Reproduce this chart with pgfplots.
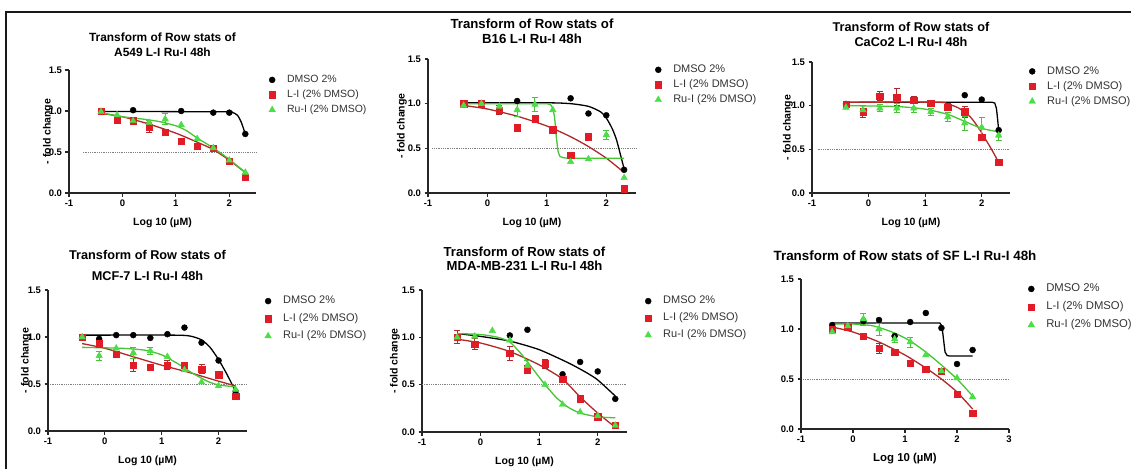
\documentclass[border=0pt]{standalone}
\usepackage{fontspec}
\setmainfont{Liberation Sans}
\usepackage{pgfplots}
\pgfplotsset{compat=1.18}

\definecolor{lired}{RGB}{226,28,38}
\definecolor{lidark}{RGB}{176,40,40}
\definecolor{rugreen}{RGB}{76,222,70}
\definecolor{rudark}{RGB}{70,196,52}

\pgfplotsset{
  panel/.style={
    scale only axis, clip=false,
    axis lines=left, axis line style={-, line width=1.4pt, black!85},
    tick align=outside, major tick length=3.5pt,
    tick style={line width=1.2pt, black!85},
    xmin=-1, xmax=2.5, ymin=0, ymax=1.5,
    xtick={-1,0,1,2}, ytick={0,0.5,1,1.5},
    x tick label style={/pgf/number format/assume math mode=true},
    y tick label style={/pgf/number format/.cd, fixed, fixed zerofill, precision=1, assume math mode=true},
    tick label style={font=\bfseries\fontsize{9.5}{10}\selectfont},
    xlabel={Log 10 (µM)}, ylabel={- fold change},
    label style={font=\bfseries\fontsize{10.5}{12}\selectfont},
    xlabel style={yshift=-4pt},
    title style={align=center},
    legend cell align=left,
    legend image code/.code={\path[draw=none, fill=none] (0pt,0pt) -- (19pt,0pt); \draw[#1] plot coordinates {(4pt,0pt)};},
    legend style={draw=none, fill=none, anchor=north west, inner sep=0pt,
      font=\fontsize{10.5}{12}\selectfont, text=black!80,
      nodes={inner sep=0pt, text height=8pt, text depth=2.5pt}, row sep=4.5pt},
  },
  dmso/.style={only marks, mark=*, mark size=3pt, black, mark options={fill=black}},
  li/.style={only marks, mark=square*, mark size=3.2pt, lired, mark options={fill=lired}},
  rui/.style={only marks, mark=triangle*, mark size=3.8pt, rugreen, mark options={fill=rugreen}},
  errs/.style={forget plot, only marks, mark=none,
    error bars/y dir=both, error bars/y explicit,
    error bars/error bar style={line width=1pt},
    error bars/error mark options={rotate=90, mark size=3pt, line width=1pt}},
  fit/.style={forget plot, no marks, line width=1.3pt, smooth, tension=0.4},
  half/.style={forget plot, no marks, gray, densely dotted, line width=0.8pt},
}

\begin{document}
\begin{tikzpicture}

% ---------- A549 ----------
\begin{axis}[panel, at={(69pt,-193pt)}, anchor=south west, width=187pt, height=123pt,
  title={Transform of Row stats of\\A549 L-I Ru-I 48h},
  title style={font=\bfseries\fontsize{11.9}{15}\selectfont, yshift=4pt},
  ylabel style={yshift=-11pt},
  legend style={at={(1.064,0.964)}}]
\addplot[half] coordinates {(-0.74,0.5) (2.5,0.5)};
\addplot[fit, black] coordinates {(-0.4,0.995) (1.9,0.99) (2.05,0.985) (2.15,0.95) (2.22,0.87) (2.3,0.72)};
\addplot[fit, lidark] coordinates {(-0.4,0.97) (0,0.93) (0.5,0.84) (1.0,0.73) (1.4,0.62) (1.7,0.53) (2.0,0.40) (2.3,0.25)};
\addplot[fit, rudark] coordinates {(-0.4,0.98) (0,0.93) (0.4,0.9) (0.7,0.87) (1.0,0.82) (1.2,0.76) (1.4,0.67) (1.7,0.55) (2.0,0.41) (2.3,0.25)};
\addplot[errs, lidark] table[x=x, y=y, y error=e] {
x y e
0.5 0.80 0.06
};
\addplot[errs, rudark] table[x=x, y=y, y error=e] {
x y e
0.5 0.86 0.03
0.8 0.90 0.07
};
\addplot[dmso] coordinates {(-0.4,1.0) (0.2,1.01) (1.1,1.0) (1.7,0.98) (2.0,0.98) (2.3,0.72)};
\addplot[li] coordinates {(-0.4,1.0) (-0.1,0.89) (0.2,0.88) (0.5,0.80) (0.8,0.74) (1.1,0.63) (1.4,0.57) (1.7,0.55) (2.0,0.39) (2.3,0.19)};
\addplot[rui] coordinates {(-0.4,0.99) (-0.1,0.95) (0.2,0.88) (0.5,0.86) (0.8,0.9) (1.1,0.83) (1.4,0.66) (1.7,0.55) (2.0,0.40) (2.3,0.25)};
\legend{DMSO 2\%, L-I (2\% DMSO), Ru-I (2\% DMSO)}
\end{axis}

% ---------- B16 ----------
\begin{axis}[panel, at={(428pt,-193pt)}, anchor=south west, width=208pt, height=134pt,
  title={Transform of Row stats of\\B16 L-I Ru-I 48h},
  title style={font=\bfseries\fontsize{13.2}{14.5}\selectfont, yshift=6pt},
  ylabel style={yshift=-6pt},
  legend style={at={(1.087,0.96)}, font=\fontsize{11}{12}\selectfont}]
\addplot[half] coordinates {(-0.93,0.5) (2.5,0.5)};
\addplot[fit, black] coordinates {(-0.4,1.01) (1.0,1.01) (1.4,1.0) (1.7,0.97) (1.9,0.91) (2.0,0.84) (2.1,0.72) (2.17,0.6) (2.23,0.45) (2.3,0.27)};
\addplot[fit, lidark] coordinates {(-0.4,0.98) (0,0.94) (0.5,0.86) (1.0,0.75) (1.4,0.63) (1.7,0.52) (2.0,0.39) (2.3,0.23)};
\addplot[forget plot, no marks, line width=1.3pt, rudark] coordinates {(-0.4,1.0) (1.0,1.0) (1.06,0.99) (1.1,0.95) (1.13,0.85) (1.16,0.62) (1.19,0.46) (1.22,0.41) (1.27,0.395) (1.35,0.39) (2.3,0.39)};
\addplot[errs, lidark] table[x=x, y=y, y error=e] {
x y e
0.2 0.93 0.05
1.7 0.63 0.03
};
\addplot[errs, rudark] table[x=x, y=y, y error=e] {
x y e
0.5 0.93 0.07
0.8 0.99 0.08
2.0 0.65 0.05
};
\addplot[dmso] coordinates {(-0.4,1.0) (0.5,1.03) (1.4,1.06) (1.7,0.89) (2.0,0.87) (2.3,0.26)};
\addplot[li] coordinates {(-0.4,1.0) (-0.1,1.0) (0.2,0.93) (0.5,0.73) (0.8,0.83) (1.1,0.71) (1.4,0.42) (1.7,0.63) (2.3,0.05)};
\addplot[rui] coordinates {(-0.4,0.98) (-0.1,1.0) (0.2,0.97) (0.5,0.93) (0.8,0.99) (1.1,0.93) (1.4,0.35) (1.7,0.38) (2.0,0.65) (2.3,0.17)};
\legend{DMSO 2\%, L-I (2\% DMSO), Ru-I (2\% DMSO)}
\end{axis}

% ---------- CaCo2 ----------
\begin{axis}[panel, at={(812pt,-193pt)}, anchor=south west, width=198pt, height=131pt,
  title={Transform of Row stats of\\CaCo2 L-I Ru-I 48h},
  title style={font=\bfseries\fontsize{12.7}{15.7}\selectfont, yshift=5.5pt},
  ylabel style={yshift=-8pt},
  legend style={at={(1.091,0.97)}, font=\fontsize{11}{12}\selectfont}]
\addplot[half] coordinates {(-0.9,0.5) (2.5,0.5)};
\addplot[forget plot, no marks, line width=1.3pt, black] coordinates {(-0.4,1.04) (2.18,1.04) (2.23,1.03) (2.26,0.97) (2.28,0.85) (2.3,0.72)};
\addplot[fit, lidark] coordinates {(-0.4,1.04) (1.2,1.04) (1.4,1.02) (1.6,0.97) (1.8,0.87) (1.95,0.74) (2.1,0.58) (2.2,0.47) (2.3,0.35)};
\addplot[fit, rudark] coordinates {(-0.4,1.0) (0.5,0.99) (1.0,0.96) (1.4,0.9) (1.7,0.82) (2.0,0.74) (2.3,0.70)};
\addplot[errs, lidark] table[x=x, y=y, y error=e] {
x y e
-0.1 0.93 0.07
0.2 1.11 0.05
0.5 1.10 0.10
0.8 1.06 0.04
1.4 0.98 0.04
1.7 0.93 0.06
};
\addplot[errs, rudark] table[x=x, y=y, y error=e] {
x y e
-0.1 0.95 0.05
0.2 0.97 0.04
0.5 0.97 0.05
0.8 0.97 0.05
1.1 0.93 0.04
1.4 0.87 0.05
1.7 0.80 0.08
2.0 0.75 0.12
2.3 0.66 0.06
};
\addplot[dmso] coordinates {(-0.4,1.02) (1.7,1.12) (2.0,1.07) (2.3,0.72)};
\addplot[li] coordinates {(-0.4,1.02) (-0.1,0.93) (0.2,1.11) (0.5,1.1) (0.8,1.06) (1.1,1.03) (1.4,0.98) (1.7,0.93) (2.0,0.64) (2.3,0.35)};
\addplot[rui] coordinates {(-0.4,0.98) (-0.1,0.95) (0.2,0.97) (0.5,0.97) (0.8,0.97) (1.1,0.93) (1.4,0.87) (1.7,0.8) (2.0,0.75) (2.3,0.66)};
\legend{DMSO 2\%, L-I (2\% DMSO), Ru-I (2\% DMSO)}
\end{axis}

% ---------- MCF-7 ----------
\begin{axis}[panel, at={(48pt,-431pt)}, anchor=south west, width=199pt, height=141pt,
  title={Transform of Row stats of\\MCF-7 L-I Ru-I 48h},
  title style={font=\bfseries\fontsize{12.7}{20.7}\selectfont},
  ylabel style={yshift=-10pt},
  legend style={at={(1.085,0.96)}, font=\fontsize{11}{12}\selectfont, row sep=7pt}]
\addplot[half] coordinates {(-0.97,0.5) (2.5,0.5)};
\addplot[fit, black] coordinates {(-0.4,1.02) (1.2,1.02) (1.5,1.01) (1.7,0.97) (1.85,0.89) (2.0,0.76) (2.15,0.6) (2.3,0.42)};
\addplot[fit, lidark] coordinates {(-0.4,0.93) (0,0.88) (0.5,0.79) (1.0,0.7) (1.5,0.62) (2.0,0.53) (2.3,0.48)};
\addplot[fit, rudark] coordinates {(-0.4,0.89) (0.3,0.88) (0.7,0.86) (1.0,0.81) (1.3,0.71) (1.5,0.63) (1.8,0.53) (2.0,0.49) (2.3,0.47)};
\addplot[errs, lidark] table[x=x, y=y, y error=e] {
x y e
-0.1 0.93 0.04
0.5 0.70 0.07
1.1 0.70 0.05
1.7 0.66 0.05
};
\addplot[errs, rudark] table[x=x, y=y, y error=e] {
x y e
-0.1 0.80 0.05
0.5 0.83 0.06
0.8 0.85 0.04
};
\addplot[dmso] coordinates {(-0.1,0.98) (0.2,1.02) (0.5,1.02) (0.8,0.99) (1.1,1.03) (1.4,1.1) (1.7,0.94) (2.0,0.75) (2.3,0.42)};
\addplot[li] coordinates {(-0.4,1.0) (-0.1,0.93) (0.2,0.82) (0.5,0.70) (0.8,0.68) (1.1,0.7) (1.4,0.7) (1.7,0.66) (2.0,0.6) (2.3,0.37)};
\addplot[rui] coordinates {(-0.4,1.0) (-0.1,0.8) (0.2,0.88) (0.5,0.83) (0.8,0.85) (1.1,0.79) (1.4,0.65) (1.7,0.52) (2.0,0.48) (2.3,0.44)};
\legend{DMSO 2\%, L-I (2\% DMSO), Ru-I (2\% DMSO)}
\end{axis}

% ---------- MDA-MB-231 ----------
\begin{axis}[panel, at={(422pt,-432pt)}, anchor=south west, width=205pt, height=142pt,
  title={Transform of Row stats of\\MDA-MB-231 L-I Ru-I 48h},
  title style={font=\bfseries\fontsize{13.1}{14}\selectfont, yshift=10pt},
  ylabel style={yshift=-5pt},
  legend style={at={(1.083,0.96)}, font=\fontsize{11}{12}\selectfont, row sep=6.5pt}]
\addplot[half] coordinates {(-1,0.5) (2.5,0.5)};
\addplot[fit, black] coordinates {(-0.4,1.04) (0,1.01) (0.5,0.96) (1.0,0.87) (1.5,0.73) (1.8,0.63) (2.0,0.55) (2.3,0.38)};
\addplot[fit, lidark] coordinates {(-0.4,0.98) (0,0.94) (0.5,0.85) (1.0,0.71) (1.4,0.56) (1.7,0.37) (2.0,0.2) (2.3,0.05)};
\addplot[fit, rudark] coordinates {(-0.4,1.04) (0,1.03) (0.3,1.0) (0.5,0.95) (0.7,0.82) (0.9,0.66) (1.1,0.5) (1.3,0.36) (1.5,0.26) (1.7,0.2) (2.0,0.16) (2.3,0.15)};
\addplot[errs, lidark] table[x=x, y=y, y error=e] {
x y e
-0.4 1.00 0.07
-0.1 0.93 0.06
0.5 0.83 0.07
0.8 0.66 0.04
1.1 0.72 0.05
};
\addplot[errs, rudark] table[x=x, y=y, y error=e] {
x y e
0.8 0.70 0.06
};
\addplot[dmso] coordinates {(-0.4,1.0) (0.5,1.02) (0.8,1.08) (1.4,0.61) (1.7,0.74) (2.0,0.64) (2.3,0.35)};
\addplot[li] coordinates {(-0.4,1.0) (-0.1,0.93) (0.5,0.83) (0.8,0.66) (1.1,0.72) (1.4,0.56) (1.7,0.35) (2.0,0.16) (2.3,0.07)};
\addplot[rui] coordinates {(-0.4,1.0) (-0.1,1.01) (0.2,1.07) (0.5,0.97) (0.8,0.7) (1.1,0.5) (1.4,0.29) (1.7,0.21) (2.0,0.17) (2.3,0.07)};
\legend{DMSO 2\%, L-I (2\% DMSO), Ru-I (2\% DMSO)}
\end{axis}

% ---------- SF ----------
\begin{axis}[panel, at={(801pt,-429pt)}, anchor=south west, width=208pt, height=150pt,
  xmax=3, xtick={-1,0,1,2,3}, ylabel={},
  title={Transform of Row stats of SF L-I Ru-I 48h},
  title style={font=\bfseries\fontsize{13.4}{15}\selectfont, yshift=9pt},
  label style={font=\bfseries\fontsize{11.4}{13}\selectfont},
  legend style={at={(1.087,0.97)}, font=\fontsize{11.3}{12}\selectfont, row sep=7.5pt}]
\addplot[half] coordinates {(-0.96,0.5) (3,0.5)};
\addplot[forget plot, no marks, line width=1.3pt, black] coordinates {(-0.4,1.06) (1.67,1.06) (1.71,1.03) (1.74,0.9) (1.77,0.77) (1.81,0.735) (1.86,0.73) (2.3,0.73)};
\addplot[fit, lidark] coordinates {(-0.4,1.02) (0,0.97) (0.5,0.87) (1.0,0.74) (1.4,0.61) (1.7,0.5) (2.0,0.37) (2.3,0.2)};
\addplot[fit, rudark] coordinates {(-0.4,1.05) (0,1.05) (0.4,1.03) (0.8,0.96) (1.1,0.88) (1.4,0.77) (1.7,0.64) (2.0,0.5) (2.3,0.33)};
\addplot[errs, lidark] table[x=x, y=y, y error=e] {
x y e
0.5 0.81 0.05
1.4 0.60 0.03
};
\addplot[errs, rudark] table[x=x, y=y, y error=e] {
x y e
0.2 1.10 0.06
0.5 1.00 0.06
0.8 0.90 0.03
1.1 0.87 0.05
};
\addplot[dmso] coordinates {(-0.4,1.04) (0.2,1.08) (0.5,1.09) (0.8,0.93) (1.1,1.07) (1.4,1.16) (1.7,1.01) (2.0,0.65) (2.3,0.79)};
\addplot[li] coordinates {(-0.4,1.0) (-0.1,1.02) (0.2,0.93) (0.5,0.81) (0.8,0.77) (1.1,0.66) (1.4,0.6) (1.7,0.58) (2.0,0.35) (2.3,0.16)};
\addplot[rui] coordinates {(-0.4,0.97) (-0.1,1.03) (0.2,1.1) (0.5,1.0) (0.8,0.9) (1.1,0.87) (1.4,0.74) (1.7,0.58) (2.0,0.51) (2.3,0.32)};
\legend{DMSO 2\%, L-I (2\% DMSO), Ru-I (2\% DMSO)}
\end{axis}

\draw[line width=2pt, black!90] (6pt,-469pt) -- (6pt,-12pt) -- (1131pt,-12pt);
\pgfresetboundingbox
\path[use as bounding box] (0pt,0pt) rectangle (1131pt,-469pt);
\end{tikzpicture}
\end{document}
